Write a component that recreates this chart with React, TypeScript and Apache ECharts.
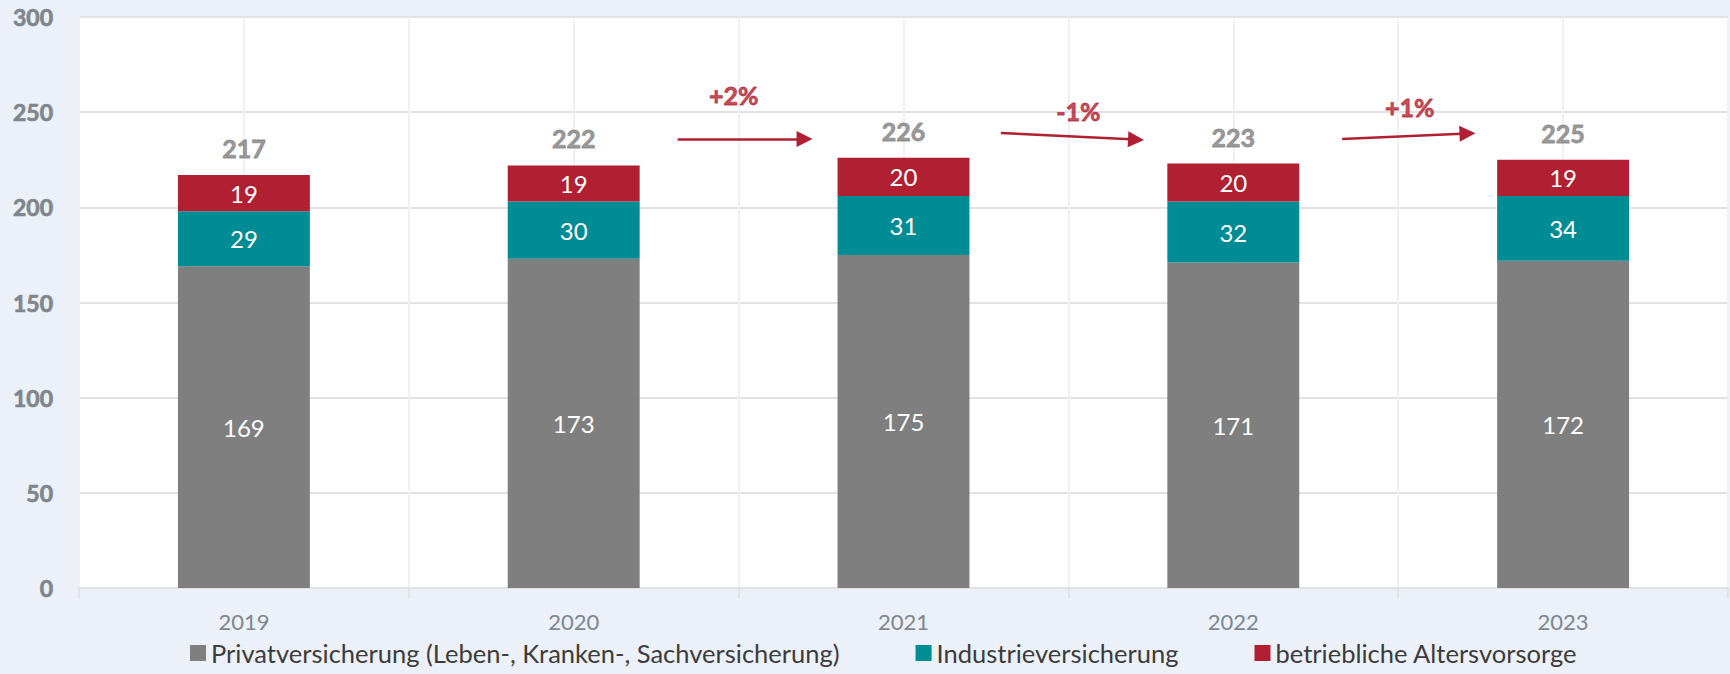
import React, { useEffect, useRef } from "react";
import * as echarts from "echarts";

const years = ["2019", "2020", "2021", "2022", "2023"];
const privat = [169, 173, 175, 171, 172];
const industrie = [29, 30, 31, 32, 34];
const bav = [19, 19, 20, 20, 19];
const totals = [217, 222, 226, 223, 225];
const seriesNames = [
  "Privatversicherung (Leben-, Kranken-, Sachversicherung)",
  "Industrieversicherung",
  "betriebliche Altersvorsorge",
];
const yTicks = [0, 50, 100, 150, 200, 250, 300];

// change annotations, in units of the hidden helper x axis (0..10 = half categories)
const changeLabels = ["+2%", "-1%", "+1%"];
const changeLabelPos = [
  [3.97, 259],
  [6.06, 250.6],
  [8.07, 252.7],
];
const arrowFrom = [
  [3.63, 235.9],
  [5.59, 239.1],
  [7.66, 235.9],
];
const arrowTo = [
  [4.4, 235.9],
  [6.41, 235.6],
  [8.42, 238.8],
];

const FONT = "Lato, 'Noto Sans', sans-serif";
const GREY = "#7f7f7f";
const TEAL = "#008c95";
const RED = "#b11f32";
const AXIS_TEXT = "#7d878d";

export default function App() {
  const ref = useRef<HTMLDivElement>(null);
  useEffect(() => {
    if (!ref.current) return;
    const chart = echarts.init(ref.current, null, { renderer: "svg" });
    const innerLabel = {
      show: true,
      position: "inside",
      color: "#ffffff",
      fontFamily: FONT,
      fontSize: 24,
    };
    chart.setOption({
      animation: false,
      backgroundColor: "#ecf0f8",
      textStyle: { fontFamily: FONT },
      grid: {
        left: 79,
        right: 2,
        top: 17,
        bottom: 86,
        show: true,
        backgroundColor: "#ffffff",
        borderWidth: 0,
      },
      legend: {
        bottom: 3,
        left: 185,
        itemWidth: 16,
        itemHeight: 16,
        itemGap: 76,
        icon: "rect",
        data: seriesNames,
        textStyle: { color: "#3c3c3c", fontSize: 25.5, fontFamily: FONT },
      },
      xAxis: [
        {
          type: "category",
          data: years,
          axisLine: { lineStyle: { color: "#e2e2e2", width: 2 } },
          axisTick: { show: true, length: 10, lineStyle: { color: "#e2e2e2", width: 2 } },
          axisLabel: { color: AXIS_TEXT, fontSize: 22, margin: 22, fontFamily: FONT },
          splitLine: { show: false },
        },
        {
          type: "value",
          min: 0,
          max: 10,
          interval: 1,
          show: true,
          position: "top",
          axisLine: { show: false },
          axisTick: { show: false },
          axisLabel: { show: false },
          splitLine: { show: true, lineStyle: { color: "#f1f1f1", width: 2 } },
        },
      ],
      yAxis: {
        type: "value",
        min: 0,
        max: 300,
        interval: 50,
        axisLine: { show: true, lineStyle: { color: "#f0f0f0", width: 2 } },
        axisTick: { show: false },
        axisLabel: {
          color: AXIS_TEXT,
          fontSize: 23,
          fontWeight: "bold",
          textBorderColor: AXIS_TEXT,
          textBorderWidth: 0.7,
          margin: 26,
          fontFamily: FONT,
          customValues: yTicks,
        },
        splitLine: { show: true, lineStyle: { color: "#e2e2e2", width: 2 } },
      },
      series: [
        {
          name: seriesNames[0],
          type: "bar",
          stack: "total",
          barWidth: "40%",
          itemStyle: { color: GREY },
          label: innerLabel,
          data: privat,
        },
        {
          name: seriesNames[1],
          type: "bar",
          stack: "total",
          itemStyle: { color: TEAL },
          label: innerLabel,
          data: industrie,
        },
        {
          name: seriesNames[2],
          type: "bar",
          stack: "total",
          itemStyle: { color: RED },
          label: innerLabel,
          data: bav,
        },
        {
          name: "Summe",
          type: "scatter",
          symbolSize: 1,
          itemStyle: { color: "rgba(0,0,0,0)" },
          label: {
            show: true,
            position: "top",
            distance: 14,
            color: GREY,
            textBorderColor: GREY,
            textBorderWidth: 0.8,
            fontSize: 25,
            fontWeight: "bold",
            fontFamily: FONT,
          },
          data: totals,
          z: 5,
        },
        {
          name: "Arrows",
          type: "lines",
          coordinateSystem: "cartesian2d",
          xAxisIndex: 1,
          yAxisIndex: 0,
          symbol: ["none", "triangle"],
          symbolSize: [16, 16],
          lineStyle: { color: RED, width: 2.5, opacity: 1, curveness: 0 },
          data: arrowFrom.map((f, i) => ({ coords: [f, arrowTo[i]] })),
          z: 6,
        },
        {
          name: "Changes",
          type: "scatter",
          xAxisIndex: 1,
          yAxisIndex: 0,
          symbolSize: 1,
          itemStyle: { color: "rgba(0,0,0,0)" },
          label: {
            show: true,
            position: "inside",
            color: RED,
            textBorderColor: RED,
            textBorderWidth: 0.8,
            fontSize: 25,
            fontWeight: "bold",
            fontFamily: FONT,
            formatter: (p: any) => changeLabels[p.dataIndex],
          },
          data: changeLabelPos,
          z: 6,
        },
      ],
    });
    return () => chart.dispose();
  }, []);
  return (
    <div
      ref={ref}
      style={{ position: "fixed", left: 0, top: 0, width: 1730, height: 674 }}
    />
  );
}
